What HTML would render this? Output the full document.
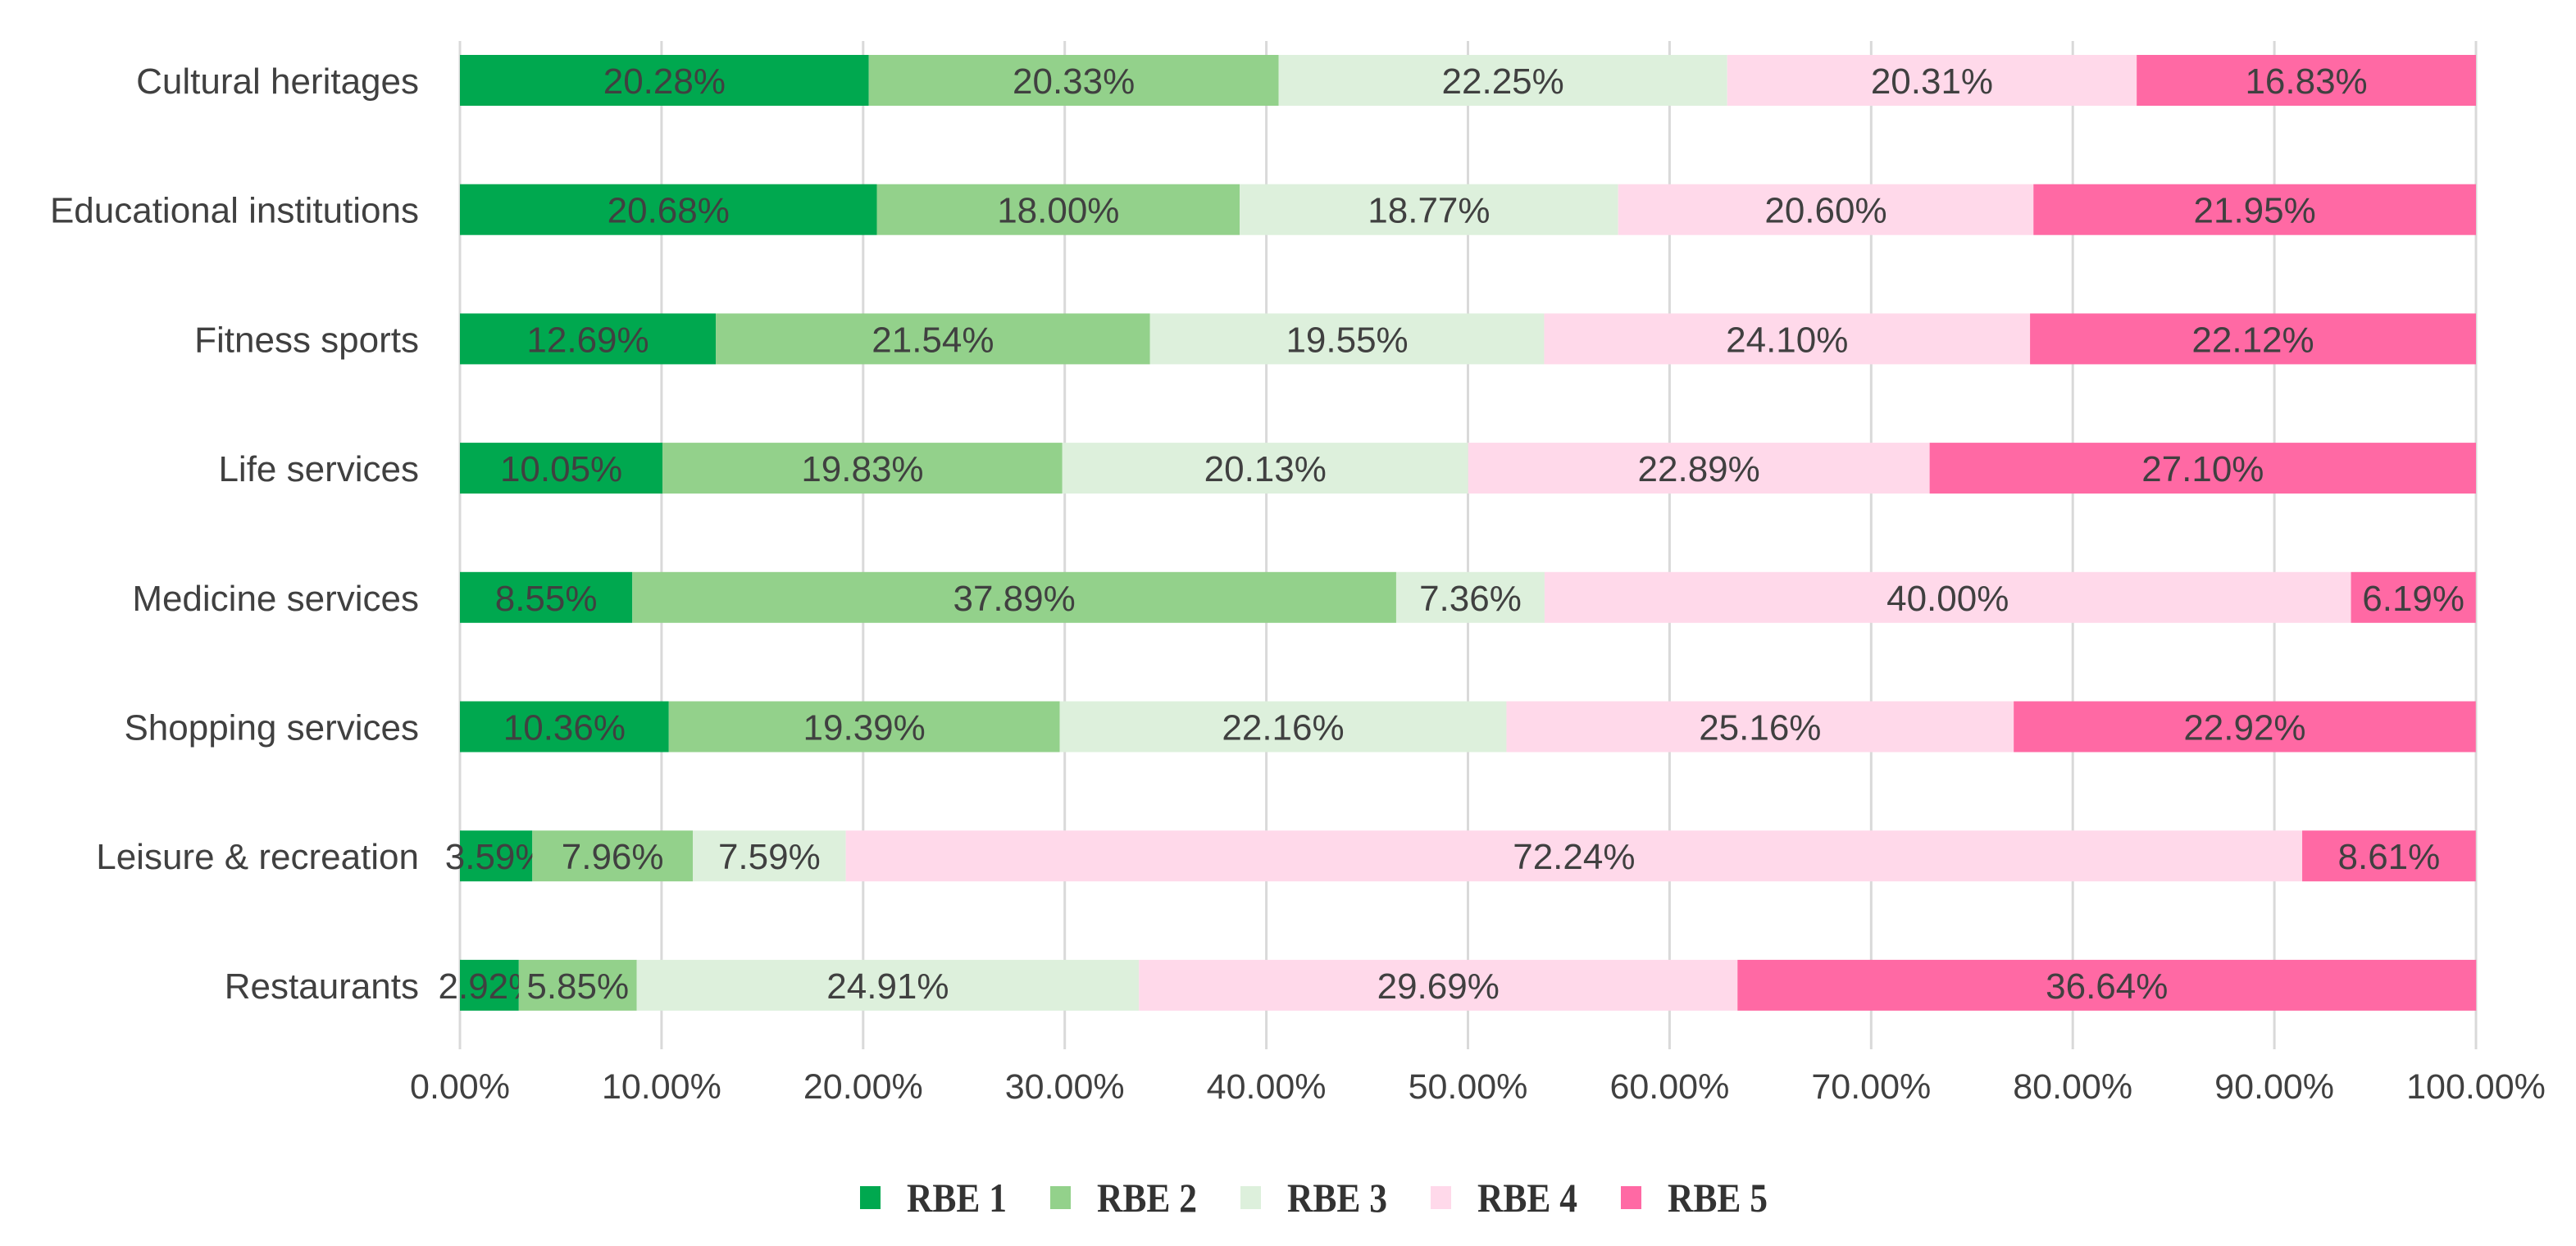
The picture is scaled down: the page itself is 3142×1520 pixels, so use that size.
<!DOCTYPE html>
<html><head><meta charset="utf-8"><style>
html,body{margin:0;padding:0;background:#fff;}
svg{display:block;}
text{font-family:"Liberation Sans",sans-serif;fill:#404040;}
</style></head><body>
<svg id="chart" width="3142" height="1520" viewBox="0 0 3142 1520" xmlns="http://www.w3.org/2000/svg">
<g id="grid"></g>
<g id="bars"></g>
<g id="ylabels"></g>
<g id="xlabels"></g>
<g id="legend"></g>
</svg>
<script>
const categories = ["Cultural heritages","Educational institutions","Fitness sports","Life services","Medicine services","Shopping services","Leisure & recreation","Restaurants"];
const seriesNames = ["RBE 1","RBE 2","RBE 3","RBE 4","RBE 5"];
const rbe1 = [20.28,20.68,12.69,10.05,8.55,10.36,3.59,2.92];
const rbe2 = [20.33,18.00,21.54,19.83,37.89,19.39,7.96,5.85];
const rbe3 = [22.25,18.77,19.55,20.13,7.36,22.16,7.59,24.91];
const rbe4 = [20.31,20.60,24.10,22.89,40.00,25.16,72.24,29.69];
const rbe5 = [16.83,21.95,22.12,27.10,6.19,22.92,8.61,36.64];
const xTicks = [0,10,20,30,40,50,60,70,80,90,100];
const colors = ["#00a84f","#93d18b","#ddf0dc","#ffd9ea","#ff69a4"];
const series = [rbe1,rbe2,rbe3,rbe4,rbe5];

const NS="http://www.w3.org/2000/svg";
const X0=561, X1=3020, TOP=50, BOTTOM=1280, ROW0=98, ROWSTEP=157.7, BARH=62;
function xs(v){return X0+(X1-X0)*v/100;}
function ys(i){return ROW0+ROWSTEP*i;}
function mk(tag,attrs,parent){const e=document.createElementNS(NS,tag);for(const k in attrs)e.setAttribute(k,attrs[k]);parent.appendChild(e);return e;}

const grid=document.getElementById('grid');
const xl=document.getElementById('xlabels');
xTicks.forEach(t=>{
  const l=mk('line',{x1:xs(t),x2:xs(t),y1:TOP,y2:BOTTOM,stroke:'#d9d9d9','stroke-width':3},grid);
  
  
  const tx=mk('text',{x:xs(t),y:1340,'text-anchor':'middle','font-size':43},xl);
  tx.textContent=t.toFixed(2)+'%';
  
  
});

const bars=document.getElementById('bars');
const yl=document.getElementById('ylabels');
categories.forEach((c,i)=>{
  const cy=ys(i);
  const lab=mk('text',{x:511,y:cy+16,'text-anchor':'end','font-size':44},yl);
  lab.textContent=c;
  
  
  let acc=0;
  series.forEach((s,k)=>{
    const v=s[i];
    const r=mk('rect',{x:xs(acc),y:cy-BARH/2,width:xs(acc+v)-xs(acc),height:BARH,fill:colors[k]},bars);
    
    
    const t=mk('text',{x:(xs(acc)+xs(acc+v))/2,y:cy+16,'text-anchor':'middle','font-size':44},bars);
    t.textContent=v.toFixed(2)+'%';
    
    
    acc+=v;
  });
});

const lg=document.getElementById('legend');
seriesNames.forEach((n,k)=>{
  const x=1049+232*k;
  const r=mk('rect',{x:x,y:1447,width:25,height:28,fill:colors[k]},lg);
  
  
  const t=mk('text',{x:x+57,y:1478,'font-size':50,'font-weight':'bold',textLength:122,lengthAdjust:'spacingAndGlyphs'},lg);
  t.style.fontFamily='"Liberation Serif",serif';
  t.style.fill='#333';
  t.textContent=n;
  
  
});
</script>
</body></html>
